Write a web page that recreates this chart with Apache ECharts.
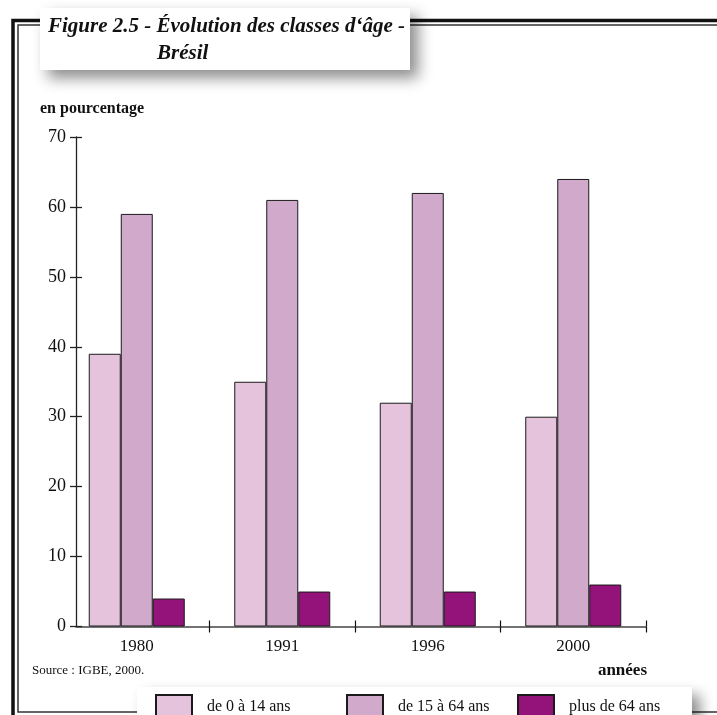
<!DOCTYPE html>
<html><head><meta charset="utf-8">
<script src="https://cdn.jsdelivr.net/npm/echarts@6/dist/echarts.min.js"></script>
<style>html,body{margin:0;padding:0;background:#fff}#c{width:717px;height:715px}</style>
</head><body><div id="c"></div>
<script>
const years = ['1980', '1991', '1996', '2000'];
const age0to14 = [39, 35, 32, 30];
const age15to64 = [59, 61, 62, 64];
const age65plus = [4, 5, 5, 6];
const seriesNames = ['de 0 à 14 ans', 'de 15 à 64 ans', 'plus de 64 ans'];
const colors = ['#E6C3DC', '#D0A9CB', '#93137B'];
const yMin = 0, yMax = 70, yStep = 10;
const titleLine1 = 'Figure 2.5 - Évolution des classes d‘âge -';
const titleLine2 = 'Brésil';
const yAxisName = 'en pourcentage';
const xAxisName = 'années';
const sourceText = 'Source : IGBE, 2000.';

const FONT = 'Liberation Serif';
const chart = echarts.init(document.getElementById('c'));
const barStyle = (c) => ({ color: c, borderColor: '#1a1a1a', borderWidth: 1 });
const legendBase = (name, left) => ({
  data: [name], left: left, top: 694, padding: 0, itemWidth: 36, itemHeight: 24,
  icon: 'rect', selectedMode: false,
  textStyle: { fontFamily: FONT, fontSize: 16, color: '#111', padding: [0, 0, 0, 10] }
});
const shadowStyle = { fill: '#fff', shadowBlur: 14, shadowOffsetX: 8, shadowOffsetY: 8, shadowColor: 'rgba(0,0,0,0.45)' };

chart.setOption({
  animation: false,
  backgroundColor: '#fff',
  grid: [
    { left: 64, right: 71, top: 137, bottom: 88.5 },
    { left: 76, right: 71, top: 137, bottom: 88.5 }
  ],
  xAxis: [
    { type: 'category', gridIndex: 0, data: years, position: 'bottom',
      axisLine: { show: false },
      axisTick: { show: true, inside: false, length: 6, interval: (i) => i > 0, lineStyle: { color: '#111', width: 1.2 } },
      axisLabel: { fontFamily: FONT, fontSize: 17, color: '#111', margin: 12 } },
    { type: 'category', gridIndex: 0, data: years, position: 'bottom',
      axisLine: { show: false },
      axisTick: { show: true, inside: true, length: 6, interval: (i) => i > 0, lineStyle: { color: '#111', width: 1.2 } },
      axisLabel: { show: false } },
    { type: 'value', gridIndex: 1, min: 0, max: 1, position: 'bottom',
      axisLine: { show: true, lineStyle: { color: '#444', width: 1.5 } },
      axisTick: { show: false }, axisLabel: { show: false }, splitLine: { show: false } }
  ],
  yAxis: [
    { type: 'value', gridIndex: 0, min: yMin, max: yMax, interval: yStep, show: false, splitLine: { show: false } },
    { type: 'value', gridIndex: 1, position: 'left', min: yMin, max: yMax, interval: yStep,
      axisLine: { show: true, lineStyle: { color: '#222', width: 1.3 } },
      axisTick: { show: true, inside: false, length: 6, lineStyle: { color: '#222', width: 1.3 } },
      axisLabel: { fontFamily: FONT, fontSize: 18, color: '#111', margin: 10 },
      splitLine: { show: false } },
    { type: 'value', gridIndex: 1, position: 'left', offset: 0, min: yMin, max: yMax, interval: yStep,
      axisLine: { show: false },
      axisTick: { show: true, inside: true, length: 6, lineStyle: { color: '#222', width: 1.3 } },
      axisLabel: { show: false }, splitLine: { show: false } }
  ],
  legend: [
    legendBase(seriesNames[0], 155),
    legendBase(seriesNames[1], 346),
    legendBase(seriesNames[2], 517)
  ],
  series: [
    { name: seriesNames[0], type: 'bar', xAxisIndex: 0, yAxisIndex: 0, data: age0to14, barWidth: 32, barGap: '0%', itemStyle: barStyle(colors[0]) },
    { name: seriesNames[1], type: 'bar', xAxisIndex: 0, yAxisIndex: 0, data: age15to64, barWidth: 32, barGap: '0%', itemStyle: barStyle(colors[1]) },
    { name: seriesNames[2], type: 'bar', xAxisIndex: 0, yAxisIndex: 0, data: age65plus, barWidth: 32, barGap: '0%', itemStyle: barStyle(colors[2]) }
  ],
  graphic: [
    { type: 'polyline', z: 0, shape: { points: [[13, 730], [13, 20.5], [730, 20.5]] }, style: { stroke: '#111', lineWidth: 3.5, fill: null } },
    { type: 'polyline', z: 0, shape: { points: [[730, 712], [18, 712], [18, 25], [730, 25]] }, style: { stroke: '#333', lineWidth: 1.5, fill: null } },
    { type: 'rect', z: 1, shape: { x: 40, y: 8, width: 370, height: 62 }, style: shadowStyle },
    { type: 'text', z: 2, left: 48, top: 16, style: { text: titleLine1, font: 'italic bold 21px "' + FONT + '"', fill: '#111' } },
    { type: 'text', z: 2, left: 157, top: 43, style: { text: titleLine2, font: 'italic bold 21px "' + FONT + '"', fill: '#111' } },
    { type: 'rect', z: 1, shape: { x: 137, y: 687, width: 555, height: 40 }, style: shadowStyle },
    { type: 'text', z: 2, left: 40, top: 101, style: { text: yAxisName, font: 'bold 16px "' + FONT + '"', fill: '#111' } },
    { type: 'text', z: 2, right: 70, top: 662, style: { text: xAxisName, font: 'bold 17px "' + FONT + '"', fill: '#111' } },
    { type: 'text', z: 2, left: 32, top: 664, style: { text: sourceText, font: '13px "' + FONT + '"', fill: '#111' } }
  ]
});
</script></body></html>
